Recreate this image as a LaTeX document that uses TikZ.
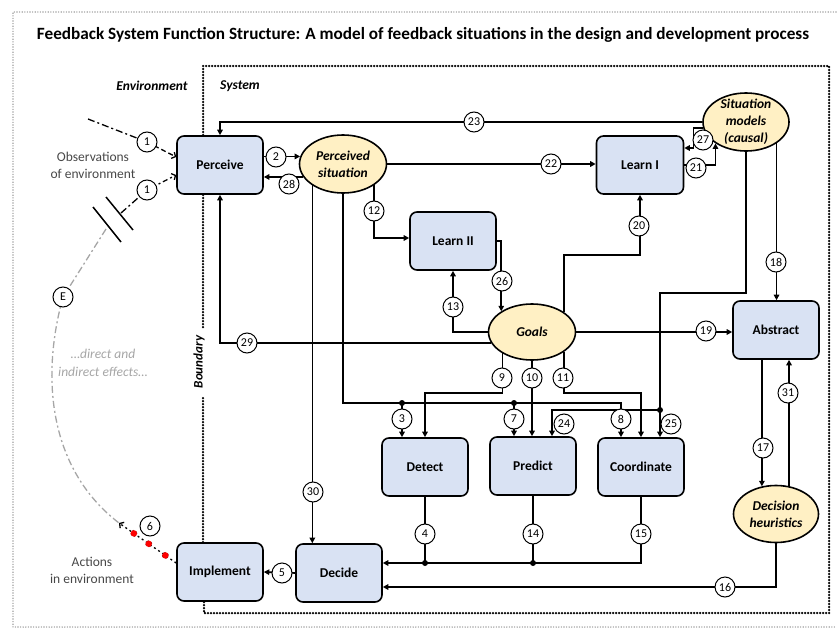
\documentclass[tikz,border=0pt]{standalone}
\usepackage{fontspec}
\setmainfont{Carlito}
\usetikzlibrary{arrows.meta,calc,shapes.geometric}
\definecolor{boxblue}{HTML}{D9E2F3}
\definecolor{ellyel}{HTML}{FFF0C4}
\definecolor{envgray}{HTML}{A6A6A6}
\begin{document}
\begin{tikzpicture}[x=1pt,y=-1pt,
  fbox/.style={draw,line width=1.6pt,rounded corners=7pt,fill=boxblue,minimum width=86pt,minimum height=58pt,inner sep=0,font=\fontsize{13.5}{15}\selectfont\bfseries},
  fell/.style={draw,line width=1.6pt,ellipse,fill=ellyel,minimum width=87pt,minimum height=58pt,inner sep=0,align=center,font=\fontsize{13.5}{17}\selectfont\bfseries\itshape},
  num/.style={circle,draw,line width=1pt,fill=white,minimum size=20pt,inner sep=0,font=\fontsize{12}{13}\selectfont},
  con/.style={line width=1.6pt},
  arr/.style={con,-{Triangle[length=5.5pt,width=5.5pt]}},
  jdot/.style={circle,fill=black,inner sep=0,minimum size=6pt},
  rdot/.style={circle,fill=red,draw=red!60!black,line width=0.4pt,inner sep=0,minimum size=6.5pt},
  dashdot/.style={line width=1.3pt,dash pattern=on 7pt off 3pt on 2pt off 3pt},
  envarr/.style={-{Straight Barb[length=3pt,width=7pt]}},
  bound/.style={line width=2.5pt,line cap=round,dash pattern=on 0pt off 3pt},
  outer/.style={envgray,line width=1.6pt,line cap=round,dash pattern=on 0pt off 2.6pt},
  envtext/.style={align=center,text=black!72,font=\fontsize{13.5}{17}\selectfont},
]
\useasboundingbox (0,0) rectangle (838,629);
% outer frame
\draw[outer] (836,12) -- (13,12) -- (13,627) -- (836,627);
% title
\node[font=\fontsize{17.2}{19}\selectfont\bfseries] (title) at (423,35) {Feedback System Function Structure: A model of feedback situations in the design and development process};
% system boundary
\draw[bound] (203,327) -- (203,66) -- (829,66) -- (829,613) -- (204,613) -- (204,602);
\draw[bound] (203,398) -- (203,543);
\node[rotate=90,font=\fontsize{13}{14}\selectfont\bfseries\itshape] (bnd) at (199,362) {Boundary};
\node[font=\fontsize{13.5}{15}\selectfont\bfseries\itshape] (envl) at (152,86) {Environment};
\node[font=\fontsize{13.5}{15}\selectfont\bfseries\itshape] (sysl) at (240,86) {System};

% main nodes
\node[fbox] (perc) at (220,165) {Perceive};
\node[fell] (ps) at (343,164) {Perceived\\situation};
\node[fbox,minimum width=87pt] (l1) at (640,165) {Learn I};
\node[fell,minimum width=86pt,label={[align=center,font=\fontsize{13.5}{17}\selectfont\bfseries\itshape]center:Situation\\models\\(causal)}] (sm) at (746,122) {};
\node[fbox] (l2) at (453,241) {Learn II};
\node[fell,minimum height=56pt] (goals) at (532,332) {Goals};
\node[fbox] (abs) at (776,330) {Abstract};
\node[fbox] (det) at (425,467) {Detect};
\node[fbox] (pre) at (533,466) {Predict};
\node[fbox] (coo) at (641,467) {Coordinate};
\node[fell,minimum width=85pt,minimum height=57pt] (dh) at (776,514) {Decision\\heuristics};
\node[fbox] (imp) at (220,572) {Implement};
\node[fbox] (dec) at (339,573) {Decide};

% environment texts
\node[envtext] (obs) at (93,165) {Observations\\of environment};
\node[envtext] (act) at (92,570) {Actions\\in environment};
\node[align=center,text=envgray,font=\fontsize{13.5}{18}\selectfont\itshape] (eff) at (103,363) {…direct and\\indirect effects…};

% junction coordinates
\coordinate (j8) at (621,403);
\coordinate (j3) at (402,403);
\coordinate (j7) at (514,403);
\coordinate (j25) at (660,410);
\coordinate (jb) at (425,563);
\coordinate (jc) at (533,563);

% connectors
\draw[arr] (sm.west) -- (perc.north |- sm.west) -- (perc.north);
\draw[arr] (ps.170 -| perc.east) -- (ps.170);
\draw[arr] (ps.198) -- (ps.198 -| perc.east);
\draw[arr] (ps.east) -- (ps.east -| l1.west);
\draw[arr] (l1.east) -| (sm.215);
\draw[arr] (sm.188) -| ($(l1.east)+(9,-17)$) -- ($(l1.east)+(0,-17)$);
\draw[arr] (goals.32) |- ($(l1.south)+(0,60)$) -- (l1.south);
\draw[arr] (ps.326) |- ($(l2.west)+(0,-3)$);
\draw[arr] (ps.215) -- (ps.215 |- dec.north);
\draw[arr] (ps.south) |- (j8) -- (j8 |- coo.north);
\draw[arr] (j3) -- (j3 |- det.north);
\draw[arr] (j7) -- (j7 |- pre.north);
\draw[arr] (goals.216) |- ($(det.north)+(0,-44)$) -- (det.north);
\draw[arr] (goals.south) -- (goals.south |- pre.north);
\draw[arr] (goals.328) |- ($(coo.north)+(0,-44)$) -- (coo.north);
\draw[arr] (sm.south) |- (j25 |- 0,293) -- (j25 |- coo.north);
\draw[arr] (j25) -| ($(pre.north)+(19,0)$);
\draw[arr] (goals.195) -| (perc.south);
\draw[arr] (goals.west) -| (l2.south);
\draw[arr] (l2.east) -| (goals.146);
\draw[arr] (goals.east) -- (goals.east -| abs.west);
\draw[arr] (sm.325) -- (sm.325 |- abs.north);
\draw[arr] (dh.117 |- abs.south) -- (dh.117);
\draw[arr] (dh.65) -- (dh.65 |- abs.south);
\draw[arr] (dh.south) |- ($(dec.east)+(0,14)$);
\draw[con] (det.south) -- (jb);
\draw[con] (pre.south) -- (jc);
\draw[arr] (coo.south) |- ($(dec.east)+(0,-10)$);
\draw[arr] (dec.west) -- (imp.east);

% environment connectors
\coordinate (o1) at (88,119);
\coordinate (c1a) at (147,142);
\coordinate (b2) at (121,213);
\coordinate (c1b) at (147,190);
\coordinate (Ec) at (63,297);
\coordinate (tip6) at (119,523);
\draw[dashdot] (o1) -- (c1a);
\draw[line width=1.3pt,dash pattern=on 5pt off 3pt,envarr] (c1a) -- ([yshift=8pt]perc.west);
\draw[dashdot] (b2) -- (c1b);
\draw[line width=1.3pt,dash pattern=on 2pt off 3pt on 5pt off 3pt,envarr] (c1b) -- ([yshift=-10pt]perc.west);
\draw[line width=1.5pt] (93,207) -- (121,242);
\draw[line width=1.5pt] (106,197) -- (133,230);
\draw[envgray,line width=1.3pt,dash pattern=on 7pt off 3pt on 2pt off 3pt] (106,229) -- (Ec);
\draw[envgray,line width=1.3pt,dash pattern=on 7pt off 3pt on 2pt off 3pt] (Ec) .. controls (40,380) and (50,470) .. (tip6);
\draw[line width=1.3pt,dash pattern=on 2pt off 3pt,envarr] ([yshift=9pt]imp.west) -- (tip6)
  node[rdot,pos=0.19] (r1) {} node[rdot,pos=0.48] (r2) {} node[rdot,pos=0.74] (r3) {};

% junction dots
\node[jdot] (d3) at (j3) {};
\node[jdot] (d7) at (j7) {};
\node[jdot] (d25) at (j25) {};
\node[jdot] (db) at (jb) {};
\node[jdot] (dc) at (jc) {};

% number circles
\node[num] (n1a) at (c1a) {1};
\node[num] (n1b) at (c1b) {1};
\node[num] (nE) at (Ec) {E};
\node[num] (n6) at (150,526) {6};
\node[num] (n2) at (276,157) {2};
\node[num] (n28) at (289,184) {28};
\node[num] (n23) at (474,122) {23};
\node[num] (n22) at (551,164) {22};
\node[num] (n21) at (696,168) {21};
\node[num] (n27) at (703,140) {27};
\node[num] (n20) at (639,226) {20};
\node[num] (n12) at (374,211) {12};
\node[num] (n13) at (453,307) {13};
\node[num] (n26) at (502,281) {26};
\node[num] (n29) at (247,343) {29};
\node[num] (n19) at (706,331) {19};
\node[num] (n18) at (776,262) {18};
\node[num] (n9) at (502,378) {9};
\node[num] (n10) at (532,378) {10};
\node[num] (n11) at (563,378) {11};
\node[num] (n3) at (402,419) {3};
\node[num] (n7) at (514,419) {7};
\node[num] (n8) at (621,419) {8};
\node[num] (n24) at (564,424) {24};
\node[num] (n25) at (671,424) {25};
\node[num] (n30) at (313,492) {30};
\node[num] (n17) at (763,448) {17};
\node[num] (n31) at (788,393) {31};
\node[num] (n4) at (425,534) {4};
\node[num] (n14) at (533,534) {14};
\node[num] (n15) at (641,534) {15};
\node[num] (n16) at (725,587) {16};
\node[num] (n5) at (282,573) {5};
\end{tikzpicture}
\end{document}
